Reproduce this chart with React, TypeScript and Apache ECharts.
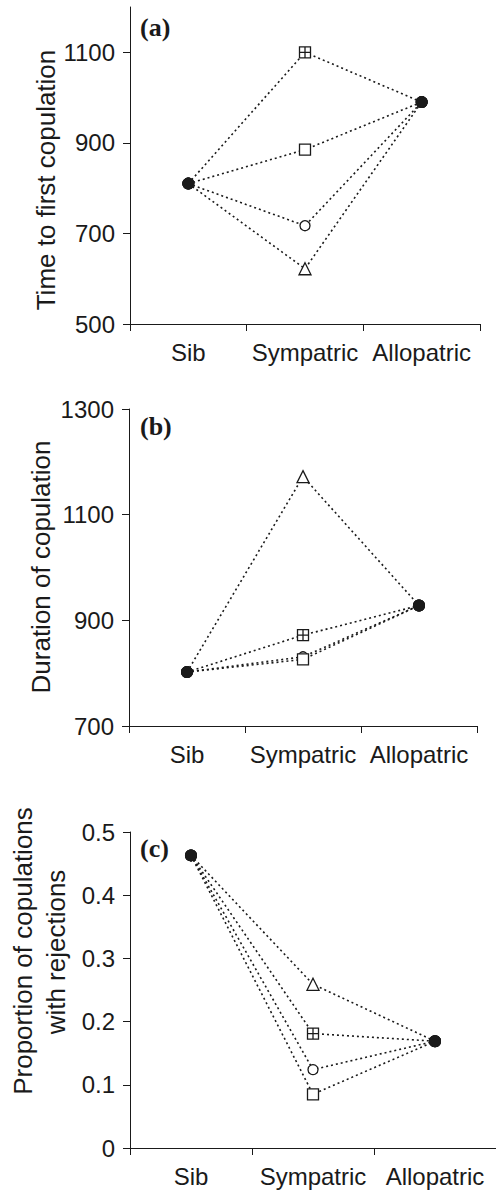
import React, { useEffect, useRef } from "react";
import * as echarts from "echarts";

const categories = ["Sib", "Sympatric", "Allopatric"];

// Order of sympatric series: boxplus, circle, square, triangle
const seriesNames = ["boxplus", "circle", "square", "triangle"];

// Panel (a) Time to first copulation
const aSib = 810;
const aAllo = 990;
const aSym = [1100, 717, 885, 622];
const aTicks = [500, 700, 900, 1100];

// Panel (b) Duration of copulation
const bSib = 802;
const bAllo = 928;
const bSym = [872, 831, 826, 1172];
const bTicks = [700, 900, 1100, 1300];

// Panel (c) Proportion of copulations with rejections
const cSib = 0.463;
const cAllo = 0.169;
const cSym = [0.181, 0.124, 0.085, 0.259];
const cTicks = [0, 0.1, 0.2, 0.3, 0.4, 0.5];

const INK = "#1a1a1a";
const SANS = "Liberation Sans, Arial, Helvetica, sans-serif";
const SERIF = "Liberation Serif, Times New Roman, serif";

const symbolFor: Record<string, string> = {
  boxplus: "path://M0 0H10V10H0ZM5 0V10M0 5H10",
  square: "rect",
  circle: "circle",
  triangle: "triangle",
};
const sizeFor: Record<string, number> = {
  boxplus: 11,
  square: 11,
  circle: 10,
  triangle: 12,
};

function buildSeries(panel: number, sib: number, allo: number, sym: number[]) {
  return seriesNames.map((name, i) => ({
    type: "line",
    name: name + panel,
    xAxisIndex: panel,
    yAxisIndex: panel,
    lineStyle: { color: INK, width: 1.6, type: [2, 3] },
    z: 2 + i,
    data: [
      {
        value: sib,
        symbol: "circle",
        symbolSize: 12,
        itemStyle: { color: INK, borderColor: INK, borderWidth: 0 },
      },
      {
        value: sym[i],
        symbol: symbolFor[name],
        symbolSize: sizeFor[name],
        itemStyle: { color: "#fff", borderColor: INK, borderWidth: 1.3 },
      },
      {
        value: allo,
        symbol: "circle",
        symbolSize: 12,
        itemStyle: { color: INK, borderColor: INK, borderWidth: 0 },
      },
    ],
  }));
}

function xAxisFor(i: number) {
  return {
    type: "category",
    gridIndex: i,
    data: categories,
    boundaryGap: true,
    axisLine: { lineStyle: { color: INK, width: 1 } },
    axisTick: { show: true, length: 7, inside: false, alignWithLabel: false, lineStyle: { color: INK } },
    axisLabel: { color: INK, fontSize: 24, fontFamily: SANS, margin: 16, interval: 0 },
    splitLine: { show: false },
  };
}

function yAxisFor(i: number, min: number, max: number, ticks: number[]) {
  return {
    type: "value",
    gridIndex: i,
    min,
    max,
    axisLine: { show: true, lineStyle: { color: INK, width: 1 } },
    axisTick: { show: true, length: 7, inside: false, customValues: ticks, lineStyle: { color: INK } },
    axisLabel: {
      color: INK,
      fontSize: 24,
      fontFamily: SANS,
      margin: 15,
      customValues: ticks,
      formatter: (v: number) => String(v),
    },
    splitLine: { show: false },
  };
}

function vText(text: string, x: number, y: number) {
  return {
    type: "text",
    x,
    y,
    rotation: Math.PI / 2,
    style: {
      text,
      fill: INK,
      font: `26px ${SANS}`,
      textAlign: "center",
      textVerticalAlign: "middle",
    },
  };
}

function panelLabel(text: string, x: number, y: number) {
  return {
    type: "text",
    x,
    y,
    style: {
      text,
      fill: INK,
      font: `bold 26px ${SERIF}`,
      textAlign: "left",
      textVerticalAlign: "middle",
    },
  };
}

export default function App() {
  const ref = useRef<HTMLDivElement>(null);
  useEffect(() => {
    if (!ref.current) return;
    const chart = echarts.init(ref.current, undefined, { renderer: "svg" });
    chart.setOption({
      animation: false,
      backgroundColor: "#fff",
      grid: [
        { left: 130, top: 7, width: 350, height: 317 },
        { left: 129, top: 409, width: 348, height: 317 },
        { left: 130, top: 832, width: 366, height: 316 },
      ],
      xAxis: [xAxisFor(0), xAxisFor(1), xAxisFor(2)],
      yAxis: [
        yAxisFor(0, 500, 1200, aTicks),
        yAxisFor(1, 700, 1300, bTicks),
        yAxisFor(2, 0, 0.5, cTicks),
      ],
      series: [
        ...buildSeries(0, aSib, aAllo, aSym),
        ...buildSeries(1, bSib, bAllo, bSym),
        ...buildSeries(2, cSib, cAllo, cSym),
      ],
      graphic: [
        vText("Time to first copulation", 46, 180),
        vText("Duration of copulation", 41, 567),
        vText("Proportion of copulations", 23, 951),
        vText("with rejections", 56, 952),
        panelLabel("(a)", 140, 27),
        panelLabel("(b)", 140, 426),
        panelLabel("(c)", 140, 848),
      ],
    });
    return () => chart.dispose();
  }, []);
  return (
    <div
      ref={ref}
      style={{ position: "absolute", left: 0, top: 0, width: 496, height: 1191 }}
    />
  );
}
